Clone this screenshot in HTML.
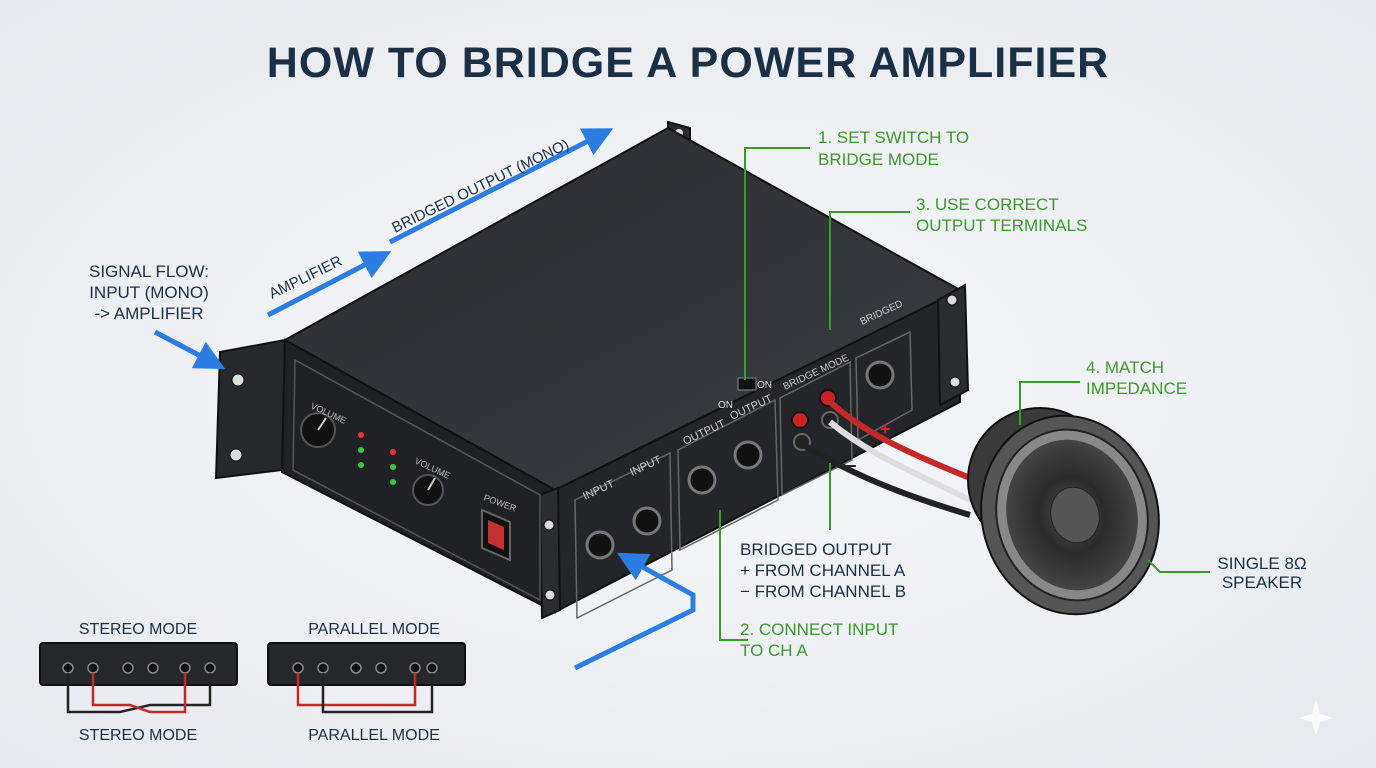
<!DOCTYPE html>
<html><head><meta charset="utf-8"><style>
html,body{margin:0;padding:0;background:#eef0f3;}
svg{display:block;font-family:"Liberation Sans",sans-serif;}
</style></head><body>
<svg width="1376" height="768" viewBox="0 0 1376 768">
<defs>
<radialGradient id="bg" cx="50%" cy="50%" r="70%"><stop offset="0" stop-color="#f7f8fa"/><stop offset="1" stop-color="#e6e9ed"/></radialGradient>
<linearGradient id="top" x1="0" y1="0" x2="1" y2="1"><stop offset="0" stop-color="#2a2c30"/><stop offset="1" stop-color="#3a3d42"/></linearGradient>
<radialGradient id="cone" cx="50%" cy="50%" r="50%"><stop offset="0" stop-color="#555"/><stop offset="0.5" stop-color="#2a2a2a"/><stop offset="1" stop-color="#444"/></radialGradient>
<marker id="ab" markerWidth="6" markerHeight="6" refX="3" refY="3" orient="auto"><path d="M0,0 L6,3 L0,6 Z" fill="#2a7de1"/></marker>
</defs>
<rect width="1376" height="768" fill="url(#bg)"/>
<text x="688" y="77" text-anchor="middle" font-size="43" font-weight="bold" fill="#1b2f45" letter-spacing="1">HOW TO BRIDGE A POWER AMPLIFIER</text>

<!-- amplifier -->
<!-- left rack ear -->
<polygon points="220,352 285,340 282,470 216,478" fill="#26282b" stroke="#111" stroke-width="2"/>
<circle cx="238" cy="380" r="6" fill="#ddd" stroke="#111"/><circle cx="236" cy="455" r="6" fill="#ddd" stroke="#111"/>
<!-- back ear top -->
<polygon points="668,122 690,128 690,145 668,140" fill="#2a2c30" stroke="#111" stroke-width="2"/>
<circle cx="679" cy="133" r="4" fill="#ddd"/>
<!-- top face -->
<polygon points="285,340 668,128 960,290 555,490" fill="url(#top)" stroke="#111" stroke-width="2"/>
<!-- front face -->
<polygon points="285,340 555,490 555,612 282,472" fill="#1f2124" stroke="#111" stroke-width="2"/>
<!-- right face -->
<polygon points="555,490 960,290 960,402 555,612" fill="#232528" stroke="#111" stroke-width="2"/>
<!-- right ear -->
<polygon points="938,300 965,285 968,390 940,405" fill="#2a2c30" stroke="#111" stroke-width="2"/>
<circle cx="952" cy="300" r="5" fill="#ddd" stroke="#111"/><circle cx="955" cy="382" r="5" fill="#ddd" stroke="#111"/>
<polygon points="540,495 558,488 560,610 542,618" fill="#2a2c30" stroke="#111" stroke-width="2"/>
<circle cx="549" cy="525" r="5" fill="#ddd" stroke="#111"/><circle cx="550" cy="595" r="5" fill="#ddd" stroke="#111"/>
<!-- front panel details -->
<polygon points="295,360 540,495 540,600 293,470" fill="none" stroke="#555" stroke-width="1.5"/>
<circle cx="318" cy="430" r="17" fill="#111" stroke="#555" stroke-width="2"/>
<line x1="318" y1="430" x2="326" y2="418" stroke="#ccc" stroke-width="2"/>
<text x="310" y="408" font-size="9" fill="#bbb" transform="rotate(25 310 408)">VOLUME</text>
<circle cx="428" cy="490" r="15" fill="#111" stroke="#555" stroke-width="2"/>
<line x1="428" y1="490" x2="435" y2="478" stroke="#ccc" stroke-width="2"/>
<text x="414" y="463" font-size="9" fill="#bbb" transform="rotate(25 414 463)">VOLUME</text>
<circle cx="361" cy="435" r="3" fill="#e33"/><circle cx="361" cy="450" r="3" fill="#3c3"/><circle cx="361" cy="465" r="3" fill="#3c3"/>
<circle cx="393" cy="452" r="3" fill="#e33"/><circle cx="393" cy="467" r="3" fill="#3c3"/><circle cx="393" cy="482" r="3" fill="#3c3"/>
<polygon points="482,510 510,522 510,560 482,548" fill="#111" stroke="#666" stroke-width="2"/>
<polygon points="488,520 504,527 504,550 488,543" fill="#c53030"/>
<text x="483" y="500" font-size="9" fill="#bbb" transform="rotate(20 483 500)">POWER</text>
<!-- right panel details -->
<polygon points="575,500 670,453 672,570 577,618" fill="none" stroke="#666" stroke-width="1.5"/>
<polygon points="678,450 775,400 778,500 680,550" fill="none" stroke="#666" stroke-width="1.5"/>
<polygon points="780,398 850,362 852,460 782,495" fill="none" stroke="#666" stroke-width="1.5"/>
<polygon points="856,358 910,332 912,410 858,440" fill="none" stroke="#666" stroke-width="1.5"/>
<g fill="#111" stroke="#777" stroke-width="3">
<circle cx="600" cy="545" r="13"/><circle cx="647" cy="521" r="13"/>
<circle cx="702" cy="480" r="13"/><circle cx="748" cy="455" r="13"/>
<circle cx="880" cy="375" r="13"/></g>
<g font-size="11" fill="#ccc"><text x="585" y="500" transform="rotate(-25 585 500)">INPUT</text><text x="632" y="476" transform="rotate(-25 632 476)">INPUT</text>
<text x="685" y="445" transform="rotate(-25 685 445)">OUTPUT</text><text x="732" y="420" transform="rotate(-25 732 420)">OUTPUT</text>
<text x="785" y="390" font-size="10" transform="rotate(-25 785 390)">BRIDGE MODE</text>
<text x="862" y="325" font-size="10" transform="rotate(-25 862 325)">BRIDGED</text></g>
<rect x="738" y="378" width="18" height="12" fill="#111" stroke="#888"/>
<text x="718" y="408" font-size="10" fill="#ddd">ON</text><text x="757" y="388" font-size="10" fill="#ddd">ON</text>
<circle cx="800" cy="420" r="8" fill="#c22" stroke="#111" stroke-width="2"/><circle cx="828" cy="398" r="8" fill="#c22" stroke="#111" stroke-width="2"/>
<circle cx="802" cy="442" r="8" fill="#222" stroke="#666" stroke-width="2"/><circle cx="830" cy="420" r="8" fill="#222" stroke="#666" stroke-width="2"/>
<!-- cables -->
<path d="M828,400 C860,430 900,450 975,480" stroke="#c62828" stroke-width="6" fill="none"/>
<path d="M830,422 C870,455 910,470 970,500" stroke="#ddd" stroke-width="6" fill="none"/>
<path d="M802,444 C860,480 920,500 970,515" stroke="#222" stroke-width="6" fill="none"/>
<text x="880" y="435" font-size="18" font-weight="bold" fill="#d22">+</text>
<text x="846" y="472" font-size="18" font-weight="bold" fill="#222">−</text>
<!-- speaker -->
<ellipse cx="1040" cy="480" rx="72" ry="72" fill="#3a3a3a" stroke="#111" stroke-width="2"/>
<ellipse cx="1070" cy="515" rx="88" ry="100" fill="#555" stroke="#111" stroke-width="2" transform="rotate(-15 1070 515)"/>
<ellipse cx="1072" cy="515" rx="75" ry="86" fill="#888" stroke="#222" stroke-width="2" transform="rotate(-15 1072 515)"/>
<ellipse cx="1072" cy="515" rx="65" ry="76" fill="url(#cone)" transform="rotate(-15 1072 515)"/>
<ellipse cx="1075" cy="515" rx="24" ry="28" fill="#555" stroke="#222" transform="rotate(-15 1075 515)"/>
<!-- blue arrows -->
<g stroke="#2a7de1" stroke-width="5" fill="none" marker-end="url(#ab)">
<line x1="155" y1="332" x2="212" y2="362"/>
<line x1="268" y1="315" x2="378" y2="258"/>
<line x1="390" y1="242" x2="600" y2="135"/>
<polyline points="575,668 693,610 693,595 630,560"/>
</g>
<text x="272" y="299" font-size="15" fill="#1b2f45" transform="rotate(-26 272 299)">AMPLIFIER</text>
<text x="395" y="233" font-size="15" fill="#1b2f45" transform="rotate(-26 395 233)">BRIDGED OUTPUT (MONO)</text>
<g font-size="17" fill="#1b2f45" text-anchor="middle"><text x="149" y="277">SIGNAL FLOW:</text><text x="149" y="298">INPUT (MONO)</text><text x="149" y="319">-&gt; AMPLIFIER</text></g>
<!-- green callouts -->
<g stroke="#3a9a2a" stroke-width="2" fill="none">
<polyline points="810,148 745,148 745,380"/>
<polyline points="910,212 830,212 830,330"/>
<polyline points="1080,382 1020,382 1020,425"/>
<polyline points="1148,560 1160,572 1210,572"/>
<polyline points="830,463 830,530"/>
<polyline points="720,510 720,640 748,640"/>
</g>
<g font-size="17" fill="#3a9a2a"><text x="818" y="143">1. SET SWITCH TO</text><text x="818" y="165">BRIDGE MODE</text>
<text x="916" y="210">3. USE CORRECT</text><text x="916" y="231">OUTPUT TERMINALS</text>
<text x="1086" y="373">4. MATCH</text><text x="1086" y="394">IMPEDANCE</text>
<text x="740" y="635">2. CONNECT INPUT</text><text x="740" y="656">TO CH A</text></g>
<g font-size="17" fill="#1b2f45"><text x="740" y="555">BRIDGED OUTPUT</text><text x="740" y="576">+ FROM CHANNEL A</text><text x="740" y="597">− FROM CHANNEL B</text>
<text x="1262" y="569" text-anchor="middle">SINGLE 8Ω</text><text x="1262" y="588" text-anchor="middle">SPEAKER</text></g>
<!-- mini diagrams -->
<g font-size="16" fill="#1b2f45" text-anchor="middle"><text x="138" y="634">STEREO MODE</text><text x="138" y="740">STEREO MODE</text>
<text x="374" y="634">PARALLEL MODE</text><text x="374" y="740">PARALLEL MODE</text></g>
<rect x="40" y="643" width="197" height="42" rx="3" fill="#25272a" stroke="#111" stroke-width="2"/>
<rect x="268" y="643" width="197" height="42" rx="3" fill="#25272a" stroke="#111" stroke-width="2"/>
<g fill="#111" stroke="#888" stroke-width="1.5">
<circle cx="68" cy="668" r="5"/><circle cx="93" cy="668" r="5"/><circle cx="128" cy="668" r="5"/><circle cx="153" cy="668" r="5"/><circle cx="185" cy="668" r="5"/><circle cx="210" cy="668" r="5"/>
<circle cx="298" cy="668" r="5"/><circle cx="323" cy="668" r="5"/><circle cx="356" cy="668" r="5"/><circle cx="381" cy="668" r="5"/><circle cx="415" cy="668" r="5"/><circle cx="432" cy="668" r="5"/></g>
<g fill="none" stroke-width="2.5">
<path d="M68,673 V712 H120 L150,705 H210 V673" stroke="#222"/>
<path d="M93,673 V705 H130 L150,712 H185 V673" stroke="#c62828"/>
<path d="M298,673 V705 H415 V673" stroke="#c62828"/>
<path d="M323,673 V712 H432 V673" stroke="#222"/>
</g>
<path d="M1316,700 L1320,714 L1334,718 L1320,722 L1316,736 L1312,722 L1298,718 L1312,714 Z" fill="#fff" opacity="0.8"/>
</svg>
</body></html>
